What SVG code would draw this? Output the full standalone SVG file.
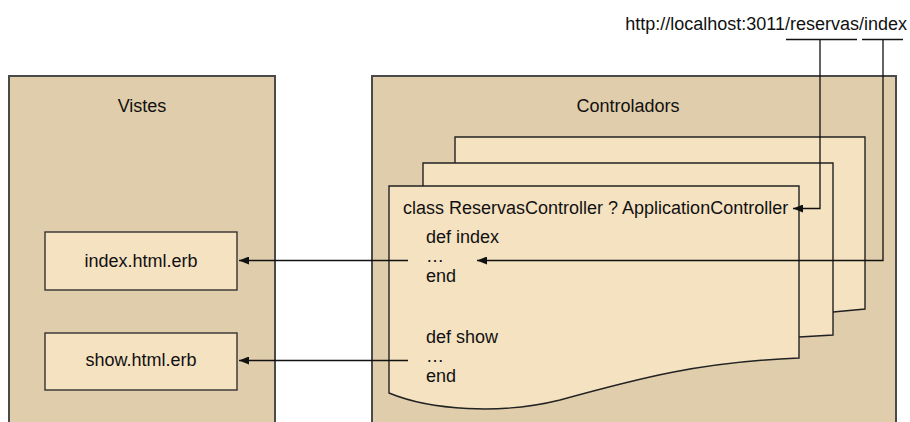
<svg xmlns="http://www.w3.org/2000/svg" width="910" height="422" viewBox="0 0 910 422">
<defs>
<style>
text{font-family:"Liberation Sans",Arial,sans-serif;font-size:18px;fill:#111}
.panel{fill:#E0CDAB;stroke:#4a4a4a;stroke-width:2}
.page{fill:#F5E2C1;stroke:#222;stroke-width:1.4}
.box{fill:#F5E2C1;stroke:#333;stroke-width:1.4}
.con{fill:none;stroke:#111;stroke-width:1.3}
.mid{text-anchor:middle}
</style>
<marker id="ah" viewBox="0 0 10 8" refX="10" refY="4" markerWidth="10" markerHeight="8" markerUnits="userSpaceOnUse" orient="auto">
<path d="M0,0 L10,4 L0,8 Z" fill="#111"/>
</marker>
</defs>
<rect width="910" height="422" fill="#fff"/>
<g id="vistes">
<rect class="panel" x="9" y="76" width="266" height="360"/>
<text class="mid" x="142" y="112">Vistes</text>
</g>
<g id="index-view">
<rect class="box" x="45" y="232" width="192" height="58"/>
<text class="mid" x="141" y="267">index.html.erb</text>
</g>
<g id="show-view">
<rect class="box" x="45" y="333" width="192" height="57"/>
<text class="mid" x="141" y="366">show.html.erb</text>
</g>
<g id="controladors">
<rect class="panel" x="372" y="76" width="524" height="360"/>
<text class="mid" x="628" y="112">Controladors</text>
</g>
<g id="page-back">
<path class="page" d="M455,137 H865 V309 L833,312 L455,320 Z"/>
</g>
<g id="page-middle">
<path class="page" d="M423,163 H833 V335 L799,337 L423,345 Z"/>
</g>
<g id="reservas-controller">
<path class="page" d="M389,186 H799 V358 C700,362 640,378 560,400 C500,415 430,410 389,393 Z"/>
<text x="403" y="214">class ReservasController ? ApplicationController</text>
<text x="426" y="243">def index</text>
<text x="426" y="262">…</text>
<text x="426" y="282">end</text>
<text x="426" y="343">def show</text>
<text x="426" y="362">…</text>
<text x="426" y="382">end</text>
</g>
<g id="url">
<text x="907" y="30" text-anchor="end">http://localhost:3011/reservas/index</text>
</g>
<g id="connectors">
<path class="con" d="M786,39.5 H857"/>
<path class="con" d="M862,39.5 H903"/>
<path class="con" d="M820,39.5 V208.5 H793" marker-end="url(#ah)"/>
<path class="con" d="M883,39.5 V260.5 H477" marker-end="url(#ah)"/>
<path class="con" d="M408,260.5 H239" marker-end="url(#ah)"/>
<path class="con" d="M408,360.5 H239" marker-end="url(#ah)"/>
</g>
</svg>
